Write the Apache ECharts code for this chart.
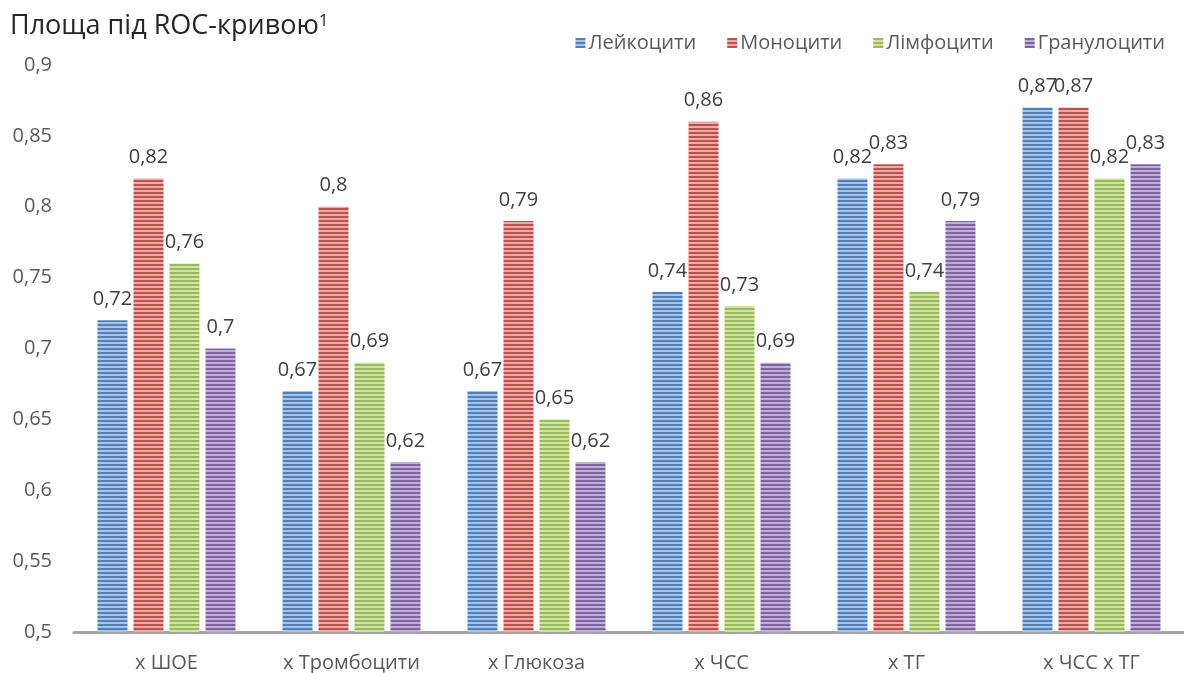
<!DOCTYPE html>
<html>
<head>
<meta charset="utf-8">
<script src="https://cdn.jsdelivr.net/npm/echarts@6/dist/echarts.min.js"></script>
<style>
  html, body { margin: 0; padding: 0; background: #ffffff; }
  #chart { width: 1184px; height: 673px; }
</style>
</head>
<body>
<div id="chart"></div>
<script>
// Factors combined with each cell count
const categories = ['x ШОЕ', 'x Тромбоцити', 'x Глюкоза', 'x ЧСС', 'x ТГ', 'x ЧСС x ТГ'];

// Area under the ROC curve per cell type
const leukocytes   = [0.72, 0.67, 0.67, 0.74, 0.82, 0.87];
const monocytes    = [0.82, 0.80, 0.79, 0.86, 0.83, 0.87];
const lymphocytes  = [0.76, 0.69, 0.65, 0.73, 0.74, 0.82];
const granulocytes = [0.70, 0.62, 0.62, 0.69, 0.79, 0.83];

const seriesNames = ['Лейкоцити', 'Моноцити', 'Лімфоцити', 'Гранулоцити'];
const seriesData = [leukocytes, monocytes, lymphocytes, granulocytes];

// Y axis range
const yMin = 0.5, yMax = 0.9, yStep = 0.05;

// Striped fills: [dark line, light line]
const stripeColors = [
  ['#4f81bd', '#a9c3e6'],
  ['#c0504d', '#e9aaa8'],
  ['#9bbb59', '#d0e2a9'],
  ['#8064a2', '#bdafd4']
];

function stripePattern(dark, light) {
  const c = document.createElement('canvas');
  c.width = 4; c.height = 4;
  const ctx = c.getContext('2d');
  ctx.fillStyle = light; ctx.fillRect(0, 0, 4, 4);
  ctx.fillStyle = dark; ctx.fillRect(0, 0, 4, 2);
  return { image: c, repeat: 'repeat' };
}

const fmt = v => String(parseFloat(Number(v).toFixed(2))).replace('.', ',');
const fontFamily = '"Open Sans", "Noto Sans", sans-serif';

const chart = echarts.init(document.getElementById('chart'), null, { renderer: 'canvas' });

chart.setOption({
  animation: false,
  textStyle: { fontFamily: fontFamily },
  title: {
    text: 'Площа під ROC-кривою{sup|1}',
    left: 5,
    top: 8,
    textStyle: {
      fontFamily: fontFamily,
      fontSize: 27,
      fontWeight: 'normal',
      color: '#262626',
      rich: {
        sup: { fontSize: 17, color: '#262626', verticalAlign: 'top', fontFamily: fontFamily }
      }
    }
  },
  legend: {
    right: 14,
    top: 28,
    itemWidth: 10,
    itemHeight: 10,
    itemGap: 31,
    icon: 'rect',
    textStyle: { fontSize: 20, color: '#595959', fontFamily: fontFamily, padding: [0, 0, 0, -2] },
    data: seriesNames
  },
  grid: { left: 74, right: -4, top: 65, bottom: 41, containLabel: false },
  xAxis: {
    type: 'category',
    data: categories,
    axisLine: { lineStyle: { color: '#a6a6a6', width: 3 } },
    axisTick: { show: false },
    axisLabel: { color: '#595959', fontSize: 20, margin: 21, fontFamily: fontFamily }
  },
  yAxis: {
    type: 'value',
    min: yMin,
    max: yMax,
    interval: yStep,
    splitLine: { show: false },
    axisLine: { show: false },
    axisTick: { show: false },
    axisLabel: { color: '#595959', fontSize: 20, margin: 22, formatter: fmt, fontFamily: fontFamily }
  },
  series: seriesNames.map((name, i) => ({
    name: name,
    type: 'bar',
    data: seriesData[i],
    barWidth: 30,
    barGap: '20%',
    itemStyle: { color: stripePattern(stripeColors[i][0], stripeColors[i][1]) },
    label: {
      show: true,
      position: 'top',
      distance: 11,
      color: '#404040',
      fontSize: 20,
      fontFamily: fontFamily,
      formatter: p => fmt(p.value)
    }
  }))
});
</script>
</body>
</html>
